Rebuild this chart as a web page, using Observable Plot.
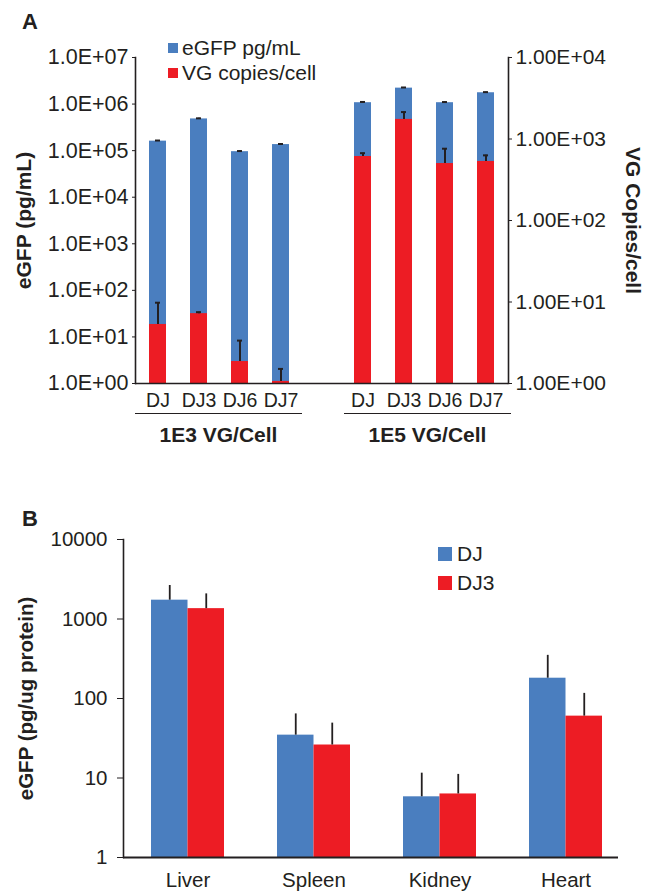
<!DOCTYPE html>
<html>
<head>
<meta charset="utf-8">
<script src="https://cdn.jsdelivr.net/npm/d3@7"></script>
<script src="https://cdn.jsdelivr.net/npm/@observablehq/plot@0.6"></script>
<style>
  html, body { margin: 0; padding: 0; background: #fff; }
  #wrap { position: relative; width: 645px; height: 891px; overflow: hidden; font-family: "Liberation Sans", Arial, sans-serif; color: #231f20; }
  .layer { position: absolute; left: 0; }
  .panel { position: absolute; font-weight: bold; font-size: 22px; line-height: 24px; }
  .leg { position: absolute; font-size: 21px; line-height: 24px; white-space: nowrap; }
  .leg i { position: absolute; display: block; }
  .grp { position: absolute; border-top: 1.6px solid #231f20; text-align: center; font-weight: bold; font-size: 21px; line-height: 24px; padding-top: 9px; }
</style>
</head>
<body>
<div id="wrap"></div>
<script>
// ---------- data ----------
const doses = ["1E3 VG/Cell", "1E5 VG/Cell"];
const variants = ["DJ", "DJ3", "DJ6", "DJ7"];
const egfp1E3 = [160000, 480000, 95000, 135000];
const egfp1E5 = [1070000, 2200000, 1070000, 1750000];
const egfpErr1E3 = [5000, 14000, 3000, 4000];
const egfpErr1E5 = [40000, 70000, 35000, 55000];
const vg1E3 = [5.3, 7.2, 1.86, 1.06];
const vg1E5 = [610, 1740, 500, 530];
const vgErr1E3 = [4.5, 0.3, 1.5, 0.45];
const vgErr1E5 = [60, 400, 260, 100];

const leftTicks = [1, 10, 100, 1000, 10000, 100000, 1000000, 10000000];
const leftTickLabels = ["1.0E+00", "1.0E+01", "1.0E+02", "1.0E+03", "1.0E+04", "1.0E+05", "1.0E+06", "1.0E+07"];
const rightTicks = [1, 10, 100, 1000, 10000];
const rightTickLabels = ["1.00E+00", "1.00E+01", "1.00E+02", "1.00E+03", "1.00E+04"];
const legendA = ["eGFP pg/mL", "VG copies/cell"];
const titleLeftA = "eGFP (pg/mL)";
const titleRightA = "VG Copies/cell";

const tissues = ["Liver", "Spleen", "Kidney", "Heart"];
const seriesB = ["DJ", "DJ3"];
const djB = [1725, 34.6, 5.8, 180];
const djErrB = [915, 29.4, 5.7, 169];
const dj3B = [1350, 26, 6.3, 60];
const dj3ErrB = [720, 23, 4.8, 56];
const bTicks = [1, 10, 100, 1000, 10000];
const bTickLabels = ["1", "10", "100", "1000", "10000"];
const titleB = "eGFP (pg/ug protein)";

// ---------- styling ----------
const blue = "#4a7ebf", red = "#ed1c24", ink = "#231f20";
const font = "'Liberation Sans', Arial, sans-serif";
const wrap = document.getElementById("wrap");

// ---------- panel A tables ----------
const rowsA = [];
doses.forEach((dose, gi) => {
  const eg = gi === 0 ? egfp1E3 : egfp1E5;
  const egE = gi === 0 ? egfpErr1E3 : egfpErr1E5;
  const vg = gi === 0 ? vg1E3 : vg1E5;
  const vgE = gi === 0 ? vgErr1E3 : vgErr1E5;
  variants.forEach((v, i) => rowsA.push({key: dose + "|" + v, variant: v, egfp: eg[i], egfpHi: eg[i] + egE[i], vg: vg[i], vgHi: vg[i] + vgE[i]}));
});
const domainA = [...variants.map(v => doses[0] + "|" + v), "gap", ...variants.map(v => doses[1] + "|" + v)];

const commonA = {
  width: 645, height: 420,
  marginTop: 57, marginBottom: 37, marginLeft: 135, marginRight: 137,
  style: {fontFamily: font, fontSize: "20.5px", color: ink, background: "transparent", overflow: "visible"}
};
const xA = {domain: domainA, paddingInner: 0.59, paddingOuter: 0.3, label: null};

const plotA1 = Plot.plot({
  ...commonA,
  x: {...xA},
  y: {type: "log", domain: [1, 1e7], label: null},
  marks: [
    Plot.barY(rowsA, {x: "key", y1: 1, y2: "egfp", fill: blue}),
    Plot.ruleX(rowsA, {x: "key", y1: "egfp", y2: "egfpHi", stroke: ink, strokeWidth: 2}),
    Plot.tickY(rowsA, {x: "key", y: "egfpHi", stroke: ink, strokeWidth: 2, insetLeft: 6, insetRight: 6}),
    Plot.axisY({ticks: leftTicks, tickFormat: d => leftTickLabels[leftTicks.indexOf(d)], tickSize: 3, tickPadding: 4, fontSize: 21.5, label: null, stroke: ink, fill: ink}),
    Plot.axisX({tickSize: 0, tickPadding: 10, fontSize: 19.5, tickFormat: d => d === "gap" ? "" : d.split("|")[1], label: null, fill: ink}),
    Plot.frame({anchor: "left", stroke: ink, strokeWidth: 1.6}),
    Plot.text([titleLeftA], {frameAnchor: "left", dx: -111, rotate: -90, textAnchor: "middle", text: d => d, fontWeight: "bold", fontSize: 21, fill: ink})
  ]
});
const plotA2 = Plot.plot({
  ...commonA,
  x: {...xA, axis: null},
  y: {type: "log", domain: [1, 1e4], label: null},
  marks: [
    Plot.barY(rowsA, {x: "key", y1: 1, y2: "vg", fill: red}),
    Plot.ruleX(rowsA, {x: "key", y1: "vg", y2: "vgHi", stroke: ink, strokeWidth: 2}),
    Plot.tickY(rowsA, {x: "key", y: "vgHi", stroke: ink, strokeWidth: 2, insetLeft: 6, insetRight: 6}),
    Plot.ruleY([1], {stroke: ink, strokeWidth: 1.6}),
    Plot.axisY({anchor: "right", ticks: rightTicks, tickFormat: d => rightTickLabels[rightTicks.indexOf(d)], tickSize: 3, tickPadding: 4, fontSize: 21, label: null, stroke: ink, fill: ink}),
    Plot.frame({anchor: "right", stroke: ink, strokeWidth: 1.6}),
    Plot.text([titleRightA], {frameAnchor: "right", dx: 124, rotate: 90, textAnchor: "middle", text: d => d, fontWeight: "bold", fontSize: 21, fill: ink})
  ]
});
[plotA1, plotA2].forEach(p => { const d = document.createElement("div"); d.className = "layer"; d.style.top = "0px"; d.appendChild(p); wrap.appendChild(d); });

// ---------- panel B ----------
const rowsB = tissues.map((t, i) => ({tissue: t, dj: djB[i], djHi: djB[i] + djErrB[i], dj3: dj3B[i], dj3Hi: dj3B[i] + dj3ErrB[i]}));
const half = 36.5;
const plotB = Plot.plot({
  width: 645, height: 411,
  marginTop: 59, marginBottom: 34, marginLeft: 123, marginRight: 27,
  style: {fontFamily: font, fontSize: "20.5px", color: ink, background: "transparent", overflow: "visible"},
  x: {domain: tissues, paddingInner: 0.424, paddingOuter: 0.165, align: 0.64, label: null},
  y: {type: "log", domain: [1, 1e4], label: null},
  marks: [
    Plot.barY(rowsB, {x: "tissue", y1: 1, y2: "dj", fill: blue, insetRight: half}),
    Plot.barY(rowsB, {x: "tissue", y1: 1, y2: "dj3", fill: red, insetLeft: half}),
    Plot.ruleX(rowsB, {x: "tissue", y1: "dj", y2: "djHi", dx: -half / 2, stroke: ink, strokeWidth: 1.8}),
    Plot.ruleX(rowsB, {x: "tissue", y1: "dj3", y2: "dj3Hi", dx: half / 2, stroke: ink, strokeWidth: 1.8}),
    Plot.ruleY([1], {stroke: ink, strokeWidth: 2}),
    Plot.axisY({ticks: bTicks, tickFormat: d => bTickLabels[bTicks.indexOf(d)], tickSize: 6, tickPadding: 10, fontSize: 20.5, label: null, stroke: ink, fill: ink}),
    Plot.axisX({tickSize: 0, tickPadding: 15, fontSize: 20.5, label: null, fill: ink}),
    Plot.frame({anchor: "left", stroke: ink, strokeWidth: 1.6}),
    Plot.text([titleB], {frameAnchor: "left", dx: -97, rotate: -90, textAnchor: "middle", text: d => d, fontWeight: "bold", fontSize: 20.5, fill: ink})
  ]
});
{ const d = document.createElement("div"); d.className = "layer"; d.style.top = "480px"; d.appendChild(plotB); wrap.appendChild(d); }

// ---------- HTML annotations ----------
function add(html, cls, css) { const d = document.createElement("div"); d.className = cls; d.textContent = html; Object.assign(d.style, css); wrap.appendChild(d); return d; }
add("A", "panel", {left: "22px", top: "10px"});
add("B", "panel", {left: "22px", top: "507px"});
// legend A
[[legendA[0], blue, 36], [legendA[1], red, 61]].forEach(([t, c, top]) => {
  const d = add(t, "leg", {left: "182px", top: top + "px"});
  const sq = document.createElement("i");
  Object.assign(sq.style, {left: "-14px", top: "7px", width: "10px", height: "10px", background: c});
  d.appendChild(sq);
});
// legend B
[[seriesB[0], blue, 542], [seriesB[1], red, 571]].forEach(([t, c, top]) => {
  const d = add(t, "leg", {left: "457px", top: top + "px"});
  const sq = document.createElement("i");
  Object.assign(sq.style, {left: "-19px", top: "5px", width: "14px", height: "14px", background: c});
  d.appendChild(sq);
});
// group labels under panel A
add(doses[0], "grp", {left: "135px", top: "413px", width: "167px"});
add(doses[1], "grp", {left: "344px", top: "413px", width: "167px"});
</script>
</body>
</html>
